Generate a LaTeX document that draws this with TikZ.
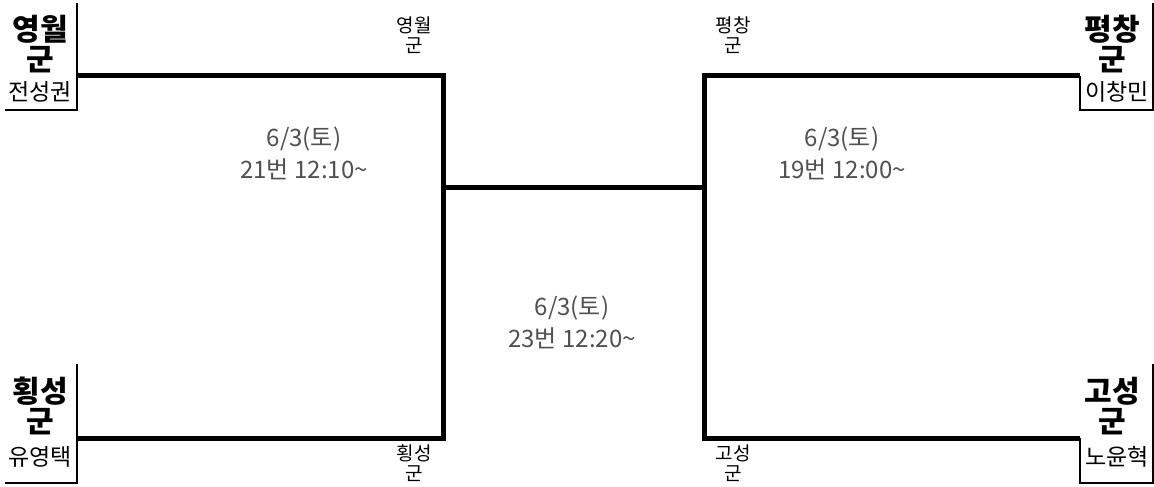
\documentclass[tikz,border=0pt]{standalone}
\usepackage{fontspec}
\setmainfont{Noto Sans CJK KR}
\definecolor{infogray}{RGB}{80,80,80}

\begin{document}
\begin{tikzpicture}[x=1pt,y=-1pt,
        team node/.style={font=\fontsize{30}{30}\selectfont\bfseries,align=center},
        player node/.style={font=\fontsize{23}{24}\selectfont},
        small node/.style={font=\fontsize{19}{20}\selectfont,align=center},
        info node/.style={font=\fontsize{24}{32}\selectfont,text=infogray,align=center},
        bracket/.style={line width=5pt},
        namebox/.style={line width=2pt}]

        \useasboundingbox (0,0) rectangle (1154,487);

        % Define team names
        \node[team node] (yw) at (40,44) {영월\\군};
        \node[player node] (yw p) at (40,92) {전성권};
        \node[team node] (hs) at (40,406) {횡성\\군};
        \node[player node] (hs p) at (40,457) {유영택};
        \node[team node] (pc) at (1112,44) {평창\\군};
        \node[player node] (pc p) at (1117,92) {이창민};
        \node[team node] (gs) at (1112,406) {고성\\군};
        \node[player node] (gs p) at (1117,457) {노윤혁};

        % Define bracket points
        \coordinate (yw end) at (77,76);
        \coordinate (hs end) at (77,438);
        \coordinate (pc end) at (1080,76);
        \coordinate (gs end) at (1080,438);
        \coordinate (left top) at (443,76);
        \coordinate (left bot) at (443,438);
        \coordinate (right top) at (704,76);
        \coordinate (right bot) at (704,438);
        \coordinate (left mid) at (443,187);
        \coordinate (right mid) at (704,187);

        % Draw name boxes
        \draw[namebox] (77,3) -- (77,110) -- (5,110);
        \draw[namebox] (77,364) -- (77,483) -- (5,483);
        \draw[namebox] (1153,3) -- (1153,110) -- (pc end |- 0,110) -- (pc end);
        \draw[namebox] (1153,364) -- (1153,483) -- (gs end |- 0,483) -- (gs end);

        % Draw bracket
        \draw[bracket] (yw end) -- (left top) -- (left bot) -- (hs end);
        \draw[bracket] (pc end) -- (right top) -- (right bot) -- (gs end);
        \draw[bracket] (left mid) -- (right mid);

        % Small labels
        \node[small node] (yw s) at (414,35) {영월\\군};
        \node[small node] (pc s) at (733,35) {평창\\군};
        \node[small node] (hs s) at (414,463) {횡성\\군};
        \node[small node] (gs s) at (733,463) {고성\\군};

        % Match info
        \node[info node] (game1) at (304,153) {6/3(토)\\21번 12:10\textasciitilde};
        \node[info node] (game2) at (842,153) {6/3(토)\\19번 12:00\textasciitilde};
        \node[info node] (game3) at (572,322) {6/3(토)\\23번 12:20\textasciitilde};

\end{tikzpicture}
\end{document}
